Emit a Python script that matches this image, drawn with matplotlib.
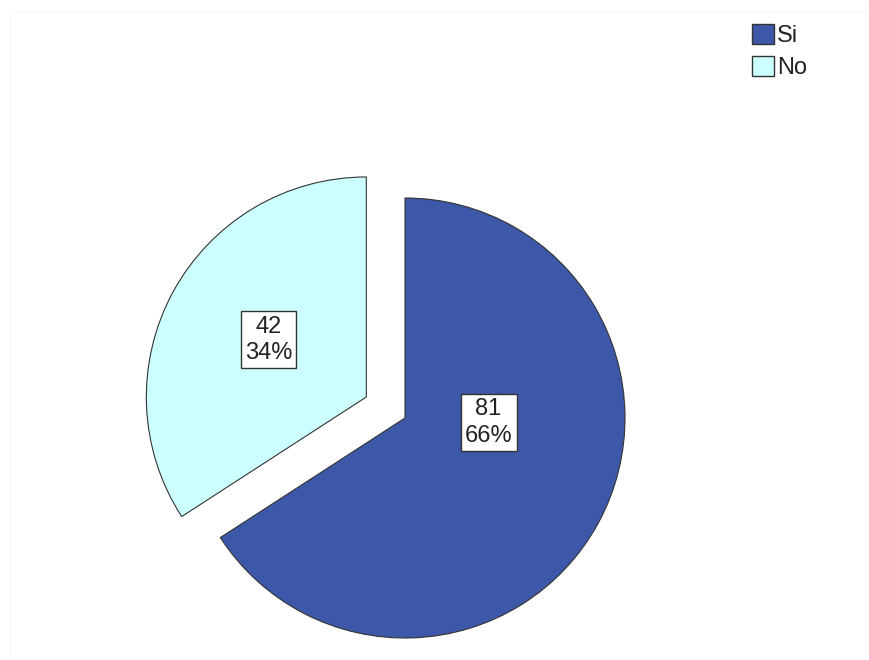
import matplotlib
matplotlib.use("Agg")
import matplotlib.pyplot as plt
from matplotlib.patches import Rectangle

plt.rcParams["font.family"] = ["Liberation Sans", "DejaVu Sans"]

labels = ['Si', 'No']
counts = [81, 42]
colors = ['#3d58a9', '#ccffff']
explode = [0, 0.2]
# where the count/percent boxes sit, relative to each wedge centre
label_pos = [(0.38, -0.02), (-0.445, 0.26)]

fig = plt.figure(figsize=(8.7, 6.6), dpi=100)

# faint outer frame of the chart area
fig.patches.append(Rectangle((10 / 870, -0.1), 1.2, 1 - 12 / 660 + 0.1,
                             transform=fig.transFigure, fill=False,
                             edgecolor='#f7f7f7', linewidth=1))

ax = fig.add_axes([185 / 870, 22 / 660, 440 / 870, 440 / 660])

wedges, _ = ax.pie(counts, colors=colors, explode=explode, startangle=90,
                   counterclock=False, radius=1,
                   wedgeprops=dict(edgecolor='#333333', linewidth=0.8))
ax.set_xlim(-1, 1)
ax.set_ylim(-1, 1)
ax.set_aspect('equal')
for w in wedges:
    w.set_clip_on(False)

total = sum(counts)
for w, n, (px, py), ex in zip(wedges, counts, label_pos, explode):
    cx, cy = w.center
    ax.text(cx + px, cy + py, '{}\n{:.0f}%'.format(n, 100 * n / total),
            ha='center', va='center', fontsize=17, linespacing=1.25,
            color='#222222',
            bbox=dict(boxstyle='square,pad=0.18', facecolor='white',
                      edgecolor='#333333', linewidth=1))

# legend
handles = [Rectangle((0, 0), 1, 1, facecolor=c, edgecolor='#333333', linewidth=1)
           for c in colors]
fig.legend(handles, labels, loc='upper left', bbox_to_anchor=(752 / 870, 1 - 24 / 660),
           frameon=False, fontsize=17, handlelength=0.95, handleheight=0.95,
           handletextpad=0.1, labelspacing=0.35, borderpad=0, borderaxespad=0,
           labelcolor='#222222')

fig.savefig('out.png', dpi=100)
